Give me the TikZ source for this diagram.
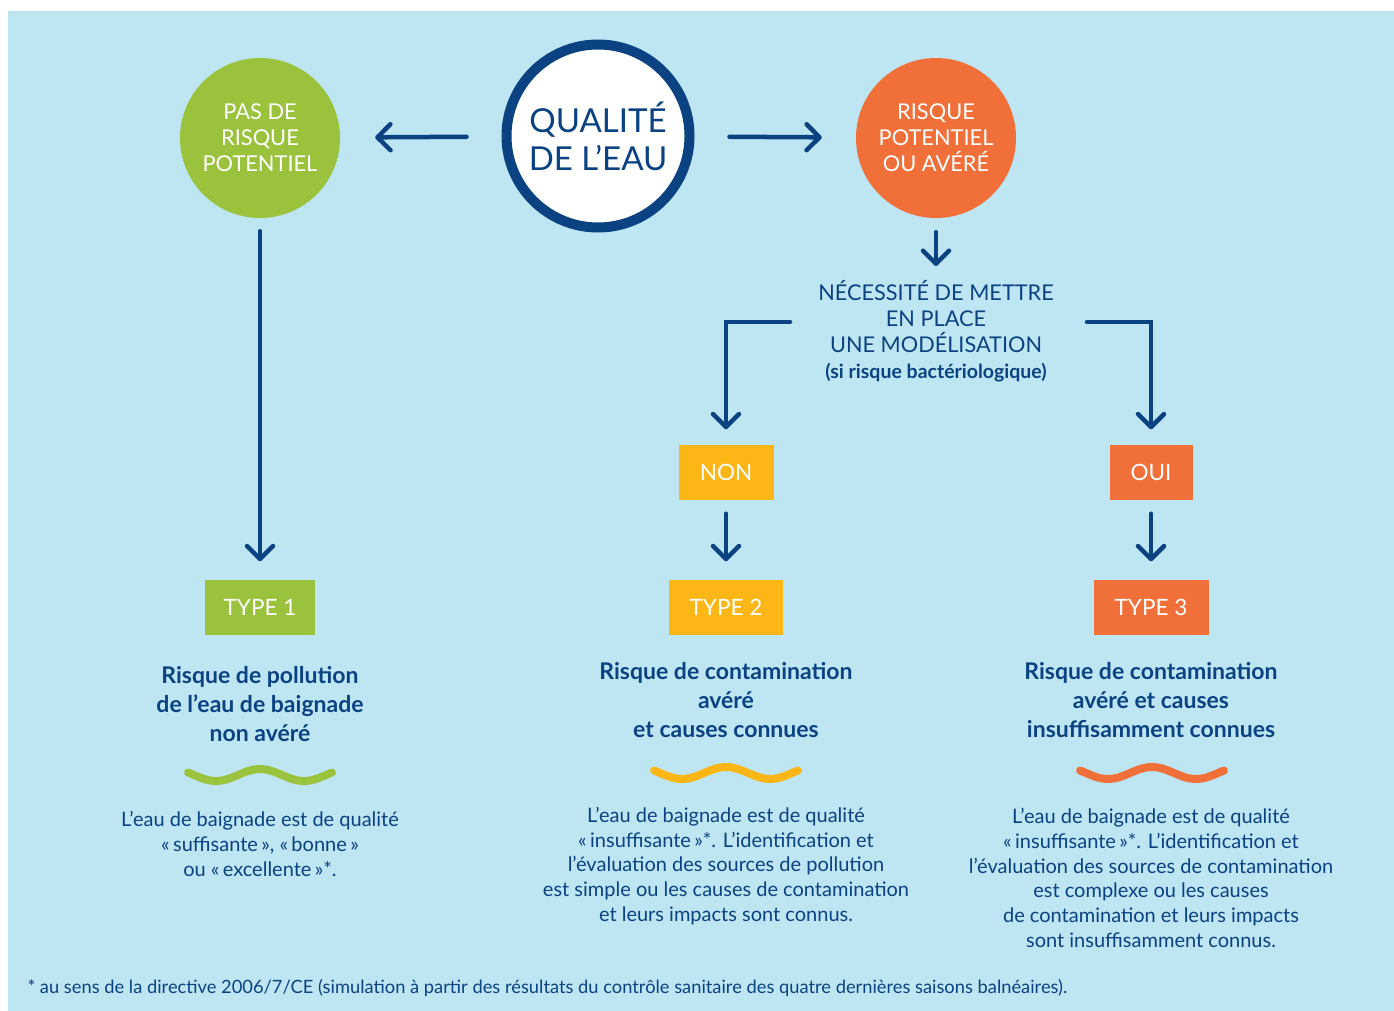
\documentclass[tikz,border=0pt]{standalone}
\usepackage{fontspec}
\setmainfont{Lato}
\usetikzlibrary{arrows.meta, positioning}

\definecolor{eaublue}{RGB}{10,66,130}
\definecolor{eaubg}{RGB}{189,229,242}
\definecolor{eaugreen}{RGB}{155,194,60}
\definecolor{eauorange}{RGB}{241,112,58}
\definecolor{eauyellow}{RGB}{252,183,22}

\begin{document}
\begin{tikzpicture}[x=1pt, y=-1pt, >={Straight Barb[length=13pt,width=26pt,round]}]
	\tikzstyle{risk}=[circle, minimum size=160pt, inner sep=0pt, text=white, align=center, font=\fontsize{21.8}{26}\selectfont]
	\tikzstyle{typebox}=[rectangle, minimum height=55pt, inner xsep=0pt, text=white, font=\fontsize{22.5}{26}\selectfont]
	\tikzstyle{title}=[text=eaublue, align=center, font=\bfseries\fontsize{23}{29}\selectfont]
	\tikzstyle{body}=[text=eaublue, align=center, font=\fontsize{20}{24.8}\selectfont]
	\tikzstyle{link}=[->, draw=eaublue, line width=4.5pt, line cap=round]
	\tikzstyle{wave}=[line width=8pt, line cap=round]

	% background
	\fill[white] (0,0) rectangle (1394,1011);
	\fill[eaubg] (8,11) rectangle (1394,1011);

	% top row
	\node[risk, fill=eaugreen] (pas) at (260,138) {PAS DE\\RISQUE\\POTENTIEL};
	\node[circle, draw=eaublue, line width=10pt, fill=white, minimum size=183pt, inner sep=0pt,
		text=eaublue, align=center, font=\fontsize{33}{38}\selectfont] (qual) at (598,136) {QUALITÉ\\DE L’EAU};
	\node[risk, fill=eauorange] (ris) at (936,138) {RISQUE\\POTENTIEL\\OU AVÉRÉ};

	\node[text=eaublue, align=center, inner sep=0pt, font=\fontsize{21.7}{26}\selectfont] (nec) at (936,331)
		{NÉCESSITÉ DE METTRE\\EN PLACE\\UNE MODÉLISATION\\{\bfseries\fontsize{19.5}{26}\selectfont (si risque bactériologique)}};
	\coordinate (nl) at (790,322);
	\coordinate (nr) at (1087,322);

	\node[typebox, fill=eauyellow, minimum width=95pt] (non) at (726,472) {NON};
	\node[typebox, fill=eauorange, minimum width=83pt] (oui) at (1151,472) {OUI};

	% types
	\node[typebox, fill=eaugreen, minimum width=110pt] (t1) at (260,607) {TYPE 1};
	\node[typebox, fill=eauyellow, minimum width=114pt] (t2) at (726,607) {TYPE 2};
	\node[typebox, fill=eauorange, minimum width=115pt] (t3) at (1151,607) {TYPE 3};

	\node[title] (h1) at (260,704) {Risque de pollution\\de l’eau de baignade\\non avéré};
	\node[title] (h2) at (726,700) {Risque de contamination\\avéré\\et causes connues};
	\node[title] (h3) at (1151,700) {Risque de contamination\\avéré et causes\\insuffisamment connues};

	\draw[wave, eaugreen] plot[domain=-72:72, samples=50] ({260+\x}, {775-6*cos(4.0909*\x)});
	\draw[wave, eauyellow] plot[domain=-72:72, samples=50] ({726+\x}, {773-6*cos(4.0909*\x)});
	\draw[wave, eauorange] plot[domain=-72:72, samples=50] ({1152+\x}, {773-6*cos(4.0909*\x)});

	\node[body] (b1) at (260,844) {L’eau de baignade est de qualité\\«\,suffisante\,», «\,bonne\,»\\ou «\,excellente\,»*.};
	\node[body] (b2) at (726,866) {L’eau de baignade est de qualité\\«\,insuffisante\,»*. L’identification et\\l’évaluation des sources de pollution\\est simple ou les causes de contamination\\et leurs impacts sont connus.};
	\node[body] (b3) at (1151,878) {L’eau de baignade est de qualité\\«\,insuffisante\,»*. L’identification et\\l’évaluation des sources de contamination\\est complexe ou les causes\\de contamination et leurs impacts\\sont insuffisamment connus.};

	\node[anchor=west, text=eaublue, font=\fontsize{18.3}{18}\selectfont] (note) at (24,988)
		{* au sens de la directive 2006/7/CE (simulation à partir des résultats du contrôle sanitaire des quatre dernières saisons balnéaires).};

	% arrows
	\draw[link, shorten <=35pt, shorten >=35pt] (qual) -- (pas);
	\draw[link, shorten <=35pt, shorten >=34pt] (qual) -- (ris);
	\draw[link, shorten <=14pt, shorten >=14pt] (ris) -- (nec);
	\draw[link, shorten >=15pt] (nl) -| (non);
	\draw[link, shorten >=15pt] (nr) -| (oui);
	\draw[link, shorten <=13pt, shorten >=18pt] (pas) -- (t1);
	\draw[link, shorten <=14pt, shorten >=18pt] (non) -- (t2);
	\draw[link, shorten <=14pt, shorten >=18pt] (oui) -- (t3);
\end{tikzpicture}
\end{document}
